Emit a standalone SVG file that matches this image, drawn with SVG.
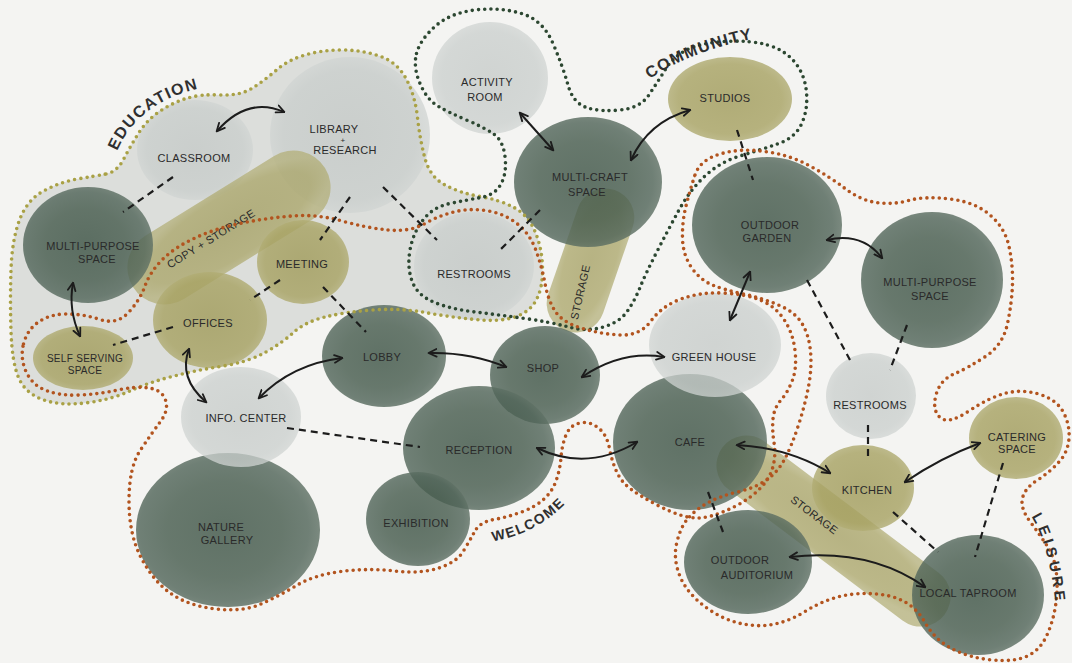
<svg xmlns="http://www.w3.org/2000/svg" width="1072" height="663" viewBox="0 0 1072 663">
<defs>
<radialGradient id="gDk" cx="0.48" cy="0.5" r="0.52">
<stop offset="0" stop-color="#3f5547"/><stop offset="0.6" stop-color="#485d4f"/><stop offset="0.88" stop-color="#52665a"/><stop offset="1" stop-color="#607266"/>
</radialGradient>
<radialGradient id="gLt" cx="0.5" cy="0.5" r="0.52">
<stop offset="0" stop-color="#c4c9c7"/><stop offset="0.8" stop-color="#c9cecc"/><stop offset="1" stop-color="#d2d6d4"/>
</radialGradient>
<radialGradient id="gOl" cx="0.5" cy="0.5" r="0.52">
<stop offset="0" stop-color="#a19c5c"/><stop offset="0.8" stop-color="#a8a364"/><stop offset="1" stop-color="#b3af78"/>
</radialGradient>
<marker id="ah" viewBox="0 0 10 10" refX="8.5" refY="5" markerWidth="10" markerHeight="10" markerUnits="userSpaceOnUse" orient="auto-start-reverse">
<path d="M1,1.2 L9,5 L1,8.8" fill="none" stroke="#1c1c1c" stroke-width="1.8" stroke-linecap="round" stroke-linejoin="round"/>
</marker>
<path id="tpEdu" d="M116,154 Q138,98 212,86"/>
<path id="tpCom" d="M648,80 Q695,48 768,36"/>
<path id="tpWel" d="M490,542 Q548,532 580,486"/>
<path id="tpLei" d="M1029,513 Q1051,543 1057,622"/>
</defs>
<style>
.dk{fill:url(#gDk);opacity:.82}
.lt{fill:url(#gLt);opacity:.75}
.ol{fill:url(#gOl);opacity:.82}
.cap{fill:url(#gOl);opacity:.74}
.lb{font-family:"Liberation Sans",Arial,sans-serif;font-size:11px;fill:#2a2a2a;text-anchor:middle;letter-spacing:.3px}
.sm{font-size:10px}
.rg{font-family:"Liberation Sans",Arial,sans-serif;font-size:16px;font-weight:bold;fill:#2f2f2f;letter-spacing:1.5px}
.dots{fill:none;stroke-width:3.6;stroke-linecap:round;stroke-dasharray:0 6.2}
.edu{stroke:#a9a145}
.com{stroke:#2c4731}
.rust{stroke:#b2541f}
.arr{fill:none;stroke:#1c1c1c;stroke-width:2;marker-start:url(#ah);marker-end:url(#ah)}
.dash{fill:none;stroke:#1c1c1c;stroke-width:2.2;stroke-dasharray:7 5}
</style>
<rect width="1072" height="663" fill="#f4f4f2"/>
<g id="education-wash">
<path fill="#dcdedb" d="M106,174 Q117,172 124,158.5 Q131,145 139,132.5 Q147,120 159.5,111.5 Q172,103 186,98.5 Q200,94 220,95 Q240,96 252.5,88 Q265,80 276.5,70 Q288,60 305,55 Q322,50 342,50 Q362,50 379.5,56 Q397,62 406,78.5 Q415,95 417.5,117.5 Q420,140 425,158.5 Q430,177 445,185 Q460,193 480,196.5 Q500,200 514,207.5 Q528,215 535,231.5 Q542,248 542.5,267.5 Q543,287 536.5,299.5 Q530,312 515,317 Q500,322 475,319.5 Q450,317 425,312.5 Q400,308 372.5,310 Q345,312 325,317 Q305,322 293.5,332.5 Q282,343 265,352.5 Q248,362 223,366 Q198,370 174,376 Q150,382 130,391 Q110,400 85,403 Q60,406 42.5,399.5 Q25,393 18.5,377.5 Q12,362 11,331 Q10,300 11,270 Q12,240 19.5,220 Q27,200 43.5,191 Q60,182 77.5,179 Q95,176 106,174 Z"/>
</g>
<g id="n-classroom"><ellipse class="lt" cx="195" cy="150" rx="58" ry="50"/><text class="lb" x="194" y="162">CLASSROOM</text></g>
<g id="n-library"><ellipse class="lt" cx="350" cy="135" rx="80" ry="78"/><text class="lb"><tspan x="334" y="133">LIBRARY</tspan><tspan x="343" y="143" font-size="8">+</tspan><tspan x="345" y="154">RESEARCH</tspan></text></g>
<g id="n-activity"><ellipse class="lt" cx="490" cy="78" rx="58" ry="56"/><text class="lb"><tspan x="487" y="86">ACTIVITY</tspan><tspan x="485" y="101">ROOM</tspan></text></g>
<g id="n-restrooms-top"><ellipse class="lt" cx="474" cy="266" rx="60" ry="54"/><text class="lb" x="474" y="278">RESTROOMS</text></g>
<g id="n-restrooms-right"><ellipse class="lt" cx="871" cy="396" rx="45" ry="43"/><text class="lb" x="870" y="409">RESTROOMS</text></g>
<g id="n-copy-storage"><rect class="cap" x="-113" y="-37" width="226" height="74" rx="37" transform="translate(229,227.5) rotate(-31.8)"/><text class="lb" transform="translate(213,242) rotate(-32)">COPY + STORAGE</text></g>
<g id="n-storage-community"><rect class="cap" x="-74.5" y="-29" width="149" height="58" rx="29" transform="translate(590.5,260.5) rotate(-71)"/><text class="lb" transform="translate(584,293) rotate(-77)">STORAGE</text></g>
<g id="n-storage-leisure"><rect class="cap" x="-139" y="-30" width="278" height="60" rx="30" transform="translate(833.5,531) rotate(37)"/><text class="lb" transform="translate(812,518) rotate(37)">STORAGE</text></g>
<g id="n-multipurpose-left"><ellipse class="dk" cx="88" cy="245" rx="65" ry="58"/><text class="lb"><tspan x="93" y="250">MULTI-PURPOSE</tspan><tspan x="97" y="263">SPACE</tspan></text></g>
<g id="n-multicraft"><ellipse class="dk" cx="588" cy="182" rx="74" ry="65"/><text class="lb"><tspan x="590" y="181">MULTI-CRAFT</tspan><tspan x="587" y="196">SPACE</tspan></text></g>
<g id="n-garden"><ellipse class="dk" cx="767" cy="225" rx="75" ry="68"/><text class="lb"><tspan x="770" y="229">OUTDOOR</tspan><tspan x="767" y="242">GARDEN</tspan></text></g>
<g id="n-multipurpose-right"><ellipse class="dk" cx="932" cy="280" rx="71" ry="68"/><text class="lb"><tspan x="930" y="286">MULTI-PURPOSE</tspan><tspan x="930" y="300">SPACE</tspan></text></g>
<g id="n-cafe"><ellipse class="dk" cx="690" cy="442" rx="77" ry="68"/><text class="lb" x="690" y="446">CAFE</text></g>
<g id="n-auditorium"><ellipse class="dk" cx="748" cy="562" rx="64" ry="52"/><text class="lb"><tspan x="740" y="564">OUTDOOR</tspan><tspan x="757" y="579">AUDITORIUM</tspan></text></g>
<g id="n-taproom"><ellipse class="dk" cx="978" cy="595" rx="66" ry="60"/><text class="lb" x="968" y="597">LOCAL TAPROOM</text></g>
<g id="n-lobby"><ellipse class="dk" cx="384" cy="356" rx="62" ry="51"/><text class="lb" x="382" y="361">LOBBY</text></g>
<g id="n-shop"><ellipse class="dk" cx="545" cy="375" rx="55" ry="49"/><text class="lb" x="543" y="372">SHOP</text></g>
<g id="n-reception"><ellipse class="dk" cx="479" cy="448" rx="76" ry="62"/><text class="lb" x="479" y="454">RECEPTION</text></g>
<g id="n-exhibition"><ellipse class="dk" cx="418" cy="519" rx="52" ry="47"/><text class="lb" x="416" y="527">EXHIBITION</text></g>
<g id="n-gallery"><ellipse class="dk" cx="228" cy="530" rx="92" ry="77"/><text class="lb"><tspan x="221" y="531">NATURE</tspan><tspan x="227" y="544">GALLERY</tspan></text></g>
<g id="n-greenhouse"><ellipse class="lt" cx="715" cy="345" rx="66" ry="52"/><text class="lb" x="714" y="361">GREEN HOUSE</text></g>
<g id="n-info"><ellipse class="lt" cx="241" cy="417" rx="60" ry="50"/><text class="lb" x="246" y="422">INFO. CENTER</text></g>
<g id="n-meeting"><ellipse class="ol" cx="303" cy="262" rx="46" ry="42"/><text class="lb" x="302" y="268">MEETING</text></g>
<g id="n-offices"><ellipse class="ol" cx="210" cy="320" rx="57" ry="48"/><text class="lb" x="208" y="327">OFFICES</text></g>
<g id="n-selfserving"><ellipse class="ol" cx="83" cy="358" rx="50" ry="32"/><text class="lb sm"><tspan x="85" y="362">SELF SERVING</tspan><tspan x="85" y="374">SPACE</tspan></text></g>
<g id="n-studios"><ellipse class="ol" cx="730" cy="99" rx="62" ry="42"/><text class="lb" x="725" y="102">STUDIOS</text></g>
<g id="n-kitchen"><ellipse class="ol" cx="863" cy="488" rx="51" ry="43"/><text class="lb" x="867" y="494">KITCHEN</text></g>
<g id="n-catering"><ellipse class="ol" cx="1016" cy="438" rx="47" ry="41"/><text class="lb"><tspan x="1017" y="441">CATERING</tspan><tspan x="1017" y="453">SPACE</tspan></text></g>
<g id="regions">
<path class="dots edu" d="M106,174 Q117,172 124,158.5 Q131,145 139,132.5 Q147,120 159.5,111.5 Q172,103 186,98.5 Q200,94 220,95 Q240,96 252.5,88 Q265,80 276.5,70 Q288,60 305,55 Q322,50 342,50 Q362,50 379.5,56 Q397,62 406,78.5 Q415,95 417.5,117.5 Q420,140 425,158.5 Q430,177 445,185 Q460,193 480,196.5 Q500,200 514,207.5 Q528,215 535,231.5 Q542,248 542.5,267.5 Q543,287 536.5,299.5 Q530,312 515,317 Q500,322 475,319.5 Q450,317 425,312.5 Q400,308 372.5,310 Q345,312 325,317 Q305,322 293.5,332.5 Q282,343 265,352.5 Q248,362 223,366 Q198,370 174,376 Q150,382 130,391 Q110,400 85,403 Q60,406 42.5,399.5 Q25,393 18.5,377.5 Q12,362 11,331 Q10,300 11,270 Q12,240 19.5,220 Q27,200 43.5,191 Q60,182 77.5,179 Q95,176 106,174 Z"/>
<path class="dots com" d="M416.5,53.5 Q420,40 435,26.5 Q450,13 475,10 Q500,7 521.5,13.5 Q543,20 553,43.5 Q563,67 568,85 Q573,103 586.5,107.5 Q600,112 620,110 Q640,108 648.5,95.5 Q657,83 665,70 Q673,57 686.5,50 Q700,43 725,41.5 Q750,40 767.5,45 Q785,50 795,62.5 Q805,75 806.5,92.5 Q808,110 801.5,124 Q795,138 777.5,144 Q760,150 740,156 Q720,162 705,176 Q690,190 679,210 Q668,230 656.5,252.5 Q645,275 640,287.5 Q635,300 627.5,311 Q620,322 603.5,327 Q587,332 568.5,327 Q550,322 525,318.5 Q500,315 475,312 Q450,309 433.5,302 Q417,295 412,281 Q407,267 410,250 Q413,233 423,220 Q433,207 450,203.5 Q467,200 481,197.5 Q495,195 501,184 Q507,173 505,156.5 Q503,140 493,133.5 Q483,127 466.5,120 Q450,113 438.5,106.5 Q427,100 420,83.5 Q413,67 416.5,53.5 Z"/>
<path class="dots rust" d="M23.5,344 Q27,330 38.5,322 Q50,314 66.5,314 Q83,314 100,319.5 Q117,325 128.5,312.5 Q140,300 145,286 Q150,272 162.5,259.5 Q175,247 196,237.5 Q217,228 242,223 Q267,218 292,216 Q317,214 342,221 Q367,228 388.5,230 Q410,232 425,223.5 Q440,215 456,211.5 Q472,208 488.5,211 Q505,214 517.5,224 Q530,234 536,250.5 Q542,267 545,283.5 Q548,300 555,311 Q562,322 581,328 Q600,334 620,335 Q640,336 651,321 Q662,306 681,299 Q700,292 722.5,293 Q745,294 760,300 Q775,306 784,319.5 Q793,333 795,350.5 Q797,368 792.5,380 Q788,392 781,400 Q774,408 773,419 Q772,430 774,442.5 Q776,455 773,466.5 Q770,478 761,487.5 Q752,497 738.5,504.5 Q725,512 711,516 Q697,520 683.5,516 Q670,512 656,504.5 Q642,497 632,490 Q622,483 617,472.5 Q612,462 609.5,448.5 Q607,435 598.5,428 Q590,421 580,423 Q570,425 566,435 Q562,445 561,457.5 Q560,470 556,481 Q552,492 543.5,499.5 Q535,507 521.5,512 Q508,517 494,519.5 Q480,522 475,531 Q470,540 463.5,551 Q457,562 439,568 Q421,574 394.5,571 Q368,568 341,571.5 Q314,575 296.5,585.5 Q279,596 261,604 Q243,612 216,609 Q189,606 171.5,594 Q154,582 141.5,558.5 Q129,535 129,501 Q129,467 140.5,450 Q152,433 160.5,421.5 Q169,410 165.5,400 Q162,390 149,388 Q136,386 118,390 Q100,394 80,395 Q60,396 46,390.5 Q32,385 26,371.5 Q20,358 23.5,344 Z"/>
<path class="dots rust" d="M695,175 Q700,160 720,154 Q740,148 765,151.5 Q790,155 810,166 Q830,177 845,188.5 Q860,200 876,202.5 Q892,205 908.5,200.5 Q925,196 950,199 Q975,202 990,215 Q1005,228 1009,246.5 Q1013,265 1012.5,283.5 Q1012,302 1007.5,323.5 Q1003,345 985.5,356.5 Q968,368 954,374 Q940,380 936,395 Q932,410 940,417.5 Q948,425 969,411 Q990,397 1006.5,393 Q1023,389 1040,394.5 Q1057,400 1063.5,412.5 Q1070,425 1069,438.5 Q1068,452 1059,462 Q1050,472 1037.5,480 Q1025,488 1022.5,498 Q1020,508 1030,521.5 Q1040,535 1047.5,546.5 Q1055,558 1056.5,574 Q1058,590 1055.5,606 Q1053,622 1046.5,636 Q1040,650 1027.5,656 Q1015,662 992.5,660 Q970,658 952.5,649 Q935,640 925,622.5 Q915,605 897.5,598.5 Q880,592 855,594 Q830,596 805,611.5 Q780,627 755,625.5 Q730,624 709,609.5 Q688,595 680.5,577.5 Q673,560 676.5,544 Q680,528 687.5,519 Q695,510 707.5,503 Q720,496 737.5,492 Q755,488 766.5,480 Q778,472 785,458.5 Q792,445 798.5,425 Q805,405 808.5,386.5 Q812,368 810.5,351.5 Q809,335 802,323.5 Q795,312 778.5,305 Q762,298 743.5,294 Q725,290 712.5,285 Q700,280 691.5,267.5 Q683,255 682.5,238.5 Q682,222 686,206 Q690,190 695,175 Z"/>
<text class="rg"><textPath href="#tpEdu" startOffset="3">EDUCATION</textPath></text>
<text class="rg"><textPath href="#tpCom" startOffset="2">COMMUNITY</textPath></text>
<text class="rg" style="font-size:14px"><textPath href="#tpWel" startOffset="3">WELCOME</textPath></text>
<text class="rg" style="font-size:15px;letter-spacing:4px"><textPath href="#tpLei" startOffset="4">LEISURE</textPath></text>
</g>
<g id="connectors">
<path class="arr" d="M217,131 Q248,96 284,112"/>
<path class="arr" d="M73,283 Q68,310 80,336"/>
<path class="arr" d="M189,349 Q178,378 206,402"/>
<path class="arr" d="M259,398 Q292,364 342,358"/>
<path class="arr" d="M429,353 Q470,352 506,367"/>
<path class="arr" d="M582,377 Q622,350 664,357"/>
<path class="arr" d="M537,448 Q587,472 637,442"/>
<path class="arr" d="M520,113 L553,150"/>
<path class="arr" d="M631,160 Q648,122 690,110"/>
<path class="arr" d="M827,240 Q862,232 882,258"/>
<path class="arr" d="M750,272 L730,320"/>
<path class="arr" d="M737,445 Q790,448 830,473"/>
<path class="arr" d="M905,482 Q940,458 980,443"/>
<path class="arr" d="M790,557 Q870,548 925,587"/>
<path class="dash" d="M173,177 L123,212"/>
<path class="dash" d="M350,197 L320,240"/>
<path class="dash" d="M383,187 L437,240"/>
<path class="dash" d="M280,280 L250,300"/>
<path class="dash" d="M323,287 L366,332"/>
<path class="dash" d="M173,327 L113,345"/>
<path class="dash" d="M540,210 L500,250"/>
<path class="dash" d="M737,130 L753,180"/>
<path class="dash" d="M807,280 L850,360"/>
<path class="dash" d="M907,325 L890,370"/>
<path class="dash" d="M868,425 L868,457"/>
<path class="dash" d="M1003,463 L975,557"/>
<path class="dash" d="M893,512 L938,552"/>
<path class="dash" d="M708,492 L723,532"/>
<path class="dash" d="M287,428 L420,447"/>
</g>
</svg>
